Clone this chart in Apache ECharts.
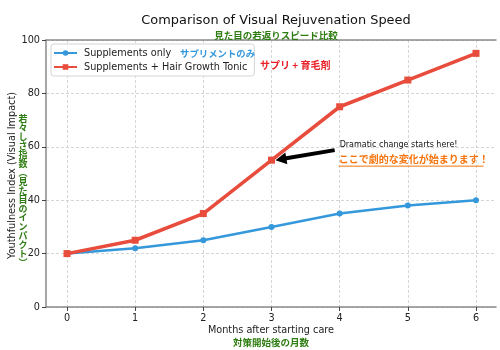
<!DOCTYPE html>
<html>
<head>
<meta charset="utf-8">
<script src="https://cdn.jsdelivr.net/npm/echarts@6/dist/echarts.min.js"></script>
<style>
  html, body { margin: 0; padding: 0; background: #fff; }
  #chart { width: 500px; height: 350px; }
</style>
</head>
<body>
<div id="chart"></div>
<script>
// Months after starting care
const months = [0, 1, 2, 3, 4, 5, 6];
// Youthfulness index per month
const supplementsOnly = [20, 22, 25, 30, 35, 38, 40];
const supplementsTonic = [20, 25, 35, 55, 75, 85, 95];
const yTicks = [0, 20, 40, 60, 80, 100];

const seriesNames = ['Supplements only', 'Supplements + Hair Growth Tonic'];
const seriesNamesJa = ['サプリメントのみ', 'サプリ + 育毛剤'];
const highlightMonth = 3;

const FONT = '"DejaVu Sans", sans-serif';
const FONT_JA = '"Noto Sans CJK JP", sans-serif';
const GREEN = '#2e7d12';
const BLUE = '#3498db';
const RED = '#e74c3c';
const AXIS_GRAY = '#8a8a8a';
const BASE_SIZE = 9.7;

const chart = echarts.init(document.getElementById('chart'), null, { renderer: 'canvas' });

const yLabelJa = '若々しさ指数︵見た目のインパクト︶';

const option = {
  animation: false,
  backgroundColor: '#fff',
  grid: [
    { left: 46, right: 4, top: 40, bottom: 43 },
    { left: 67, right: 24, top: 40, bottom: 43 }
  ],
  xAxis: [
    {
      gridIndex: 0, type: 'value', min: 0, max: 1,
      axisLine: { show: true, lineStyle: { color: AXIS_GRAY, width: 1.5 } },
      axisTick: { show: false }, axisLabel: { show: false }, splitLine: { show: false }
    },
    {
      gridIndex: 1, type: 'value', min: 0, max: 6, interval: 1,
      axisLine: { show: false },
      axisTick: { show: true, length: 4, lineStyle: { color: '#444' } },
      axisLabel: { color: '#222', fontFamily: FONT, fontSize: BASE_SIZE, margin: 6 },
      splitLine: { show: true, lineStyle: { color: '#cccccc', type: [3, 2], width: 0.8 } }
    },
    {
      // top frame line
      gridIndex: 0, type: 'value', min: 0, max: 1, position: 'top',
      axisLine: { show: true, lineStyle: { color: AXIS_GRAY, width: 1.5 } },
      axisTick: { show: false }, axisLabel: { show: false }, splitLine: { show: false }
    }
  ],
  yAxis: [
    {
      gridIndex: 0, type: 'value', min: 0, max: 100, interval: 20,
      axisLine: { show: true, lineStyle: { color: AXIS_GRAY, width: 1.5 } },
      axisTick: { show: true, length: 4, lineStyle: { color: '#444' } },
      axisLabel: { color: '#222', fontFamily: FONT, fontSize: BASE_SIZE, margin: 6 },
      splitLine: { show: true, lineStyle: { color: '#cccccc', type: [3, 2], width: 0.8 } }
    },
    {
      gridIndex: 1, type: 'value', min: 0, max: 100, interval: 20, show: false
    }
  ],
  title: [
    {
      text: 'Comparison of Visual Rejuvenation Speed',
      left: 271, top: 9, textAlign: 'center',
      textStyle: { fontFamily: FONT, fontSize: 12.9, fontWeight: 'normal', color: '#111' }
    },
    {
      text: '見た目の若返りスピード比較',
      left: 271, top: 26, textAlign: 'center',
      textStyle: { fontFamily: FONT_JA, fontSize: 9.5, fontWeight: 'bold', color: GREEN }
    }
  ],
  legend: {
    left: 51, top: 44, orient: 'vertical',
    data: seriesNames,
    itemWidth: 23, itemHeight: 7, itemGap: 4,
    padding: [4, 7, 4, 2],
    backgroundColor: 'rgba(255,255,255,0.9)',
    borderColor: '#d5d5d5', borderWidth: 1, borderRadius: 3,
    textStyle: { fontFamily: FONT, fontSize: BASE_SIZE, color: '#222', padding: [0, 0, 0, 2] }
  },
  series: [
    {
      name: seriesNames[0], type: 'line', xAxisIndex: 1, yAxisIndex: 1,
      data: months.map((m, i) => [m, supplementsOnly[i]]),
      lineStyle: { color: BLUE, width: 2.5 },
      itemStyle: { color: BLUE },
      symbol: 'circle', symbolSize: 6, z: 3
    },
    {
      name: seriesNames[1], type: 'line', xAxisIndex: 1, yAxisIndex: 1,
      data: months.map((m, i) => [m, supplementsTonic[i]]),
      lineStyle: { color: RED, width: 3.5 },
      itemStyle: { color: RED },
      symbol: 'rect', symbolSize: 7, z: 4
    }
  ]
};
chart.setOption(option);

// Axis names, Japanese captions and the annotation arrow are placed from data coordinates
function px(x, y) { return chart.convertToPixel({ xAxisIndex: 1, yAxisIndex: 1 }, [x, y]); }

const p0 = px(0, 0);
const p6 = px(6, 100);
const cx = (46 + 496) / 2;
const cy = (p0[1] + p6[1]) / 2;

const target = px(highlightMonth, supplementsTonic[highlightMonth]);
const textAnchor = px(4, 58);

// arrow from the caption towards the highlighted point
const tail = [textAnchor[0] - 5, textAnchor[1] - 2];
const tip = [target[0] + 4, target[1] + 0];
const dx = tip[0] - tail[0], dy = tip[1] - tail[1];
const len = Math.sqrt(dx * dx + dy * dy);
const ux = dx / len, uy = dy / len;
const nx = -uy, ny = ux;
const headLen = 11, headW = 6, bodyW = 2;
const base = [tip[0] - ux * headLen, tip[1] - uy * headLen];
const arrowPts = [
  [tail[0] + nx * bodyW, tail[1] + ny * bodyW],
  [base[0] + nx * bodyW, base[1] + ny * bodyW],
  [base[0] + nx * headW, base[1] + ny * headW],
  tip,
  [base[0] - nx * headW, base[1] - ny * headW],
  [base[0] - nx * bodyW, base[1] - ny * bodyW],
  [tail[0] - nx * bodyW, tail[1] - ny * bodyW]
];

chart.setOption({
  graphic: [
    {
      type: 'text', x: 12, y: cy + 2, rotation: Math.PI / 2, z: 100,
      style: {
        text: 'Youthfulness Index (Visual Impact)', fontFamily: FONT, fontSize: BASE_SIZE,
        fill: '#222', align: 'center', verticalAlign: 'middle'
      }
    },
    {
      type: 'text', x: 23, y: cy + 17, z: 100,
      style: {
        text: yLabelJa.split('').join('\n'), fontFamily: FONT_JA, fontSize: 9,
        fontWeight: 'bold', lineHeight: 9.05,
        fill: GREEN, align: 'center', verticalAlign: 'middle'
      }
    },
    {
      type: 'text', x: cx, y: 330, z: 100,
      style: {
        text: 'Months after starting care', fontFamily: FONT, fontSize: BASE_SIZE,
        fill: '#222', align: 'center', verticalAlign: 'middle'
      }
    },
    {
      type: 'text', x: cx, y: 342.5, z: 100,
      style: {
        text: '対策開始後の月数', fontFamily: FONT_JA, fontSize: 9.5, fontWeight: 'bold',
        fill: GREEN, align: 'center', verticalAlign: 'middle'
      }
    },
    {
      type: 'text', x: 180, y: 53, z: 100,
      style: {
        text: seriesNamesJa[0], fontFamily: FONT_JA, fontSize: 9.4, fontWeight: 'bold',
        fill: BLUE, align: 'left', verticalAlign: 'middle'
      }
    },
    {
      type: 'text', x: 260, y: 65, z: 100,
      style: {
        text: seriesNamesJa[1], fontFamily: FONT_JA, fontSize: 10, fontWeight: 'bold',
        fill: '#e8232a', align: 'left', verticalAlign: 'middle'
      }
    },
    {
      type: 'polygon', z: 100,
      shape: { points: arrowPts },
      style: { fill: '#000' }
    },
    {
      type: 'text', x: textAnchor[0], y: textAnchor[1] - 7, z: 100,
      style: {
        text: 'Dramatic change starts here!', fontFamily: FONT, fontSize: 8,
        fill: '#111', align: 'left', verticalAlign: 'middle'
      }
    },
    {
      type: 'text', x: textAnchor[0] - 1, y: textAnchor[1] + 7, z: 100,
      style: {
        text: 'ここで劇的な変化が始まります！', fontFamily: FONT_JA, fontSize: 10,
        fontWeight: 'bold', fill: '#f5730c', align: 'left', verticalAlign: 'middle'
      }
    },
    {
      type: 'line', z: 100,
      shape: { x1: textAnchor[0] - 1, y1: textAnchor[1] + 14, x2: textAnchor[0] + 144, y2: textAnchor[1] + 14 },
      style: { stroke: '#f5730c', lineWidth: 1 }
    }
  ]
});
</script>
</body>
</html>
